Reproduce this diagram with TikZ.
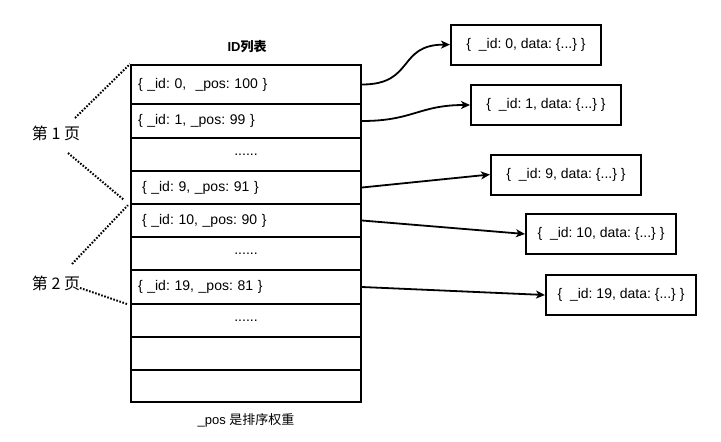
\documentclass[tikz,border=0pt]{standalone}
\usepackage{fontspec}
\setmainfont{Liberation Sans}
\newfontfamily\cjk{Noto Sans CJK SC}
\usetikzlibrary{positioning,arrows.meta}
\frenchspacing

\begin{document}
\begin{tikzpicture}[x=1pt, y=-1pt,
    row/.style={draw, line width=2pt, minimum width=230pt, text width=216pt,
      inner xsep=7pt, align=left, font=\fontsize{14}{16}\selectfont},
    gap/.style={row, align=center},
    doc/.style={draw, line width=2pt, minimum width=150pt, minimum height=40pt,
      font=\fontsize{14}{16}\selectfont},
    ptr/.style={line width=1.8pt, -{Stealth[length=9pt,width=8pt,inset=2.5pt]}},
    page/.style={line width=2pt, dash pattern=on 1.6pt off 1.6pt}]
    \useasboundingbox (0,0) rectangle (721,442);

    \node[font=\bfseries\fontsize{13}{15}\selectfont] (title) at (247,47) {ID{\cjk 列表}};

    % ID list
    \node[row, minimum height=39pt] (r1) at (246,84.5) {\{ \_id: 0,~ \_pos: 100 \}};
    \node[row, minimum height=34pt] (r2) at (246,121) {\{ \_id: 1, \_pos: 99 \}};
    \node[gap, minimum height=33pt] (r3) at (246,154.5) {......};
    \node[row, minimum height=33pt] (r4) at (246,187.5) {\hspace*{4pt}\{ \_id: 9, \_pos: 91 \}};
    \node[row, minimum height=33pt] (r5) at (246,220.5) {\hspace*{4pt}\{ \_id: 10, \_pos: 90 \}};
    \node[gap, minimum height=33pt] (r6) at (246,253.5) {......};
    \node[row, minimum height=34pt] (r7) at (246,287) {\{ \_id: 19, \_pos: 81 \}};
    \node[gap, minimum height=33pt] (r8) at (246,320.5) {......};
    \node[row, minimum height=33pt] (r9) at (246,353.5) {};
    \node[row, minimum height=32pt] (r10) at (246,386) {};

    \node[font=\fontsize{13}{15}\selectfont] (note) at (246,420) {\_pos {\cjk 是排序权重}};

    % documents
    \node[doc] (b1) at (526,44.6) {\{~ \_id: 0, data: \{...\} \}};
    \node[doc] (b2) at (546,105) {\{~ \_id: 1, data: \{...\} \}};
    \node[doc] (b3) at (566,174.5) {\{~ \_id: 9, data: \{...\} \}};
    \node[doc] (b4) at (601,234) {\{~ \_id: 10, data: \{...\} \}};
    \node[doc] (b5) at (621,295) {\{~ \_id: 19, data: \{...\} \}};

    \draw[ptr] (r1.east) to[out=0, in=180, looseness=1.4] (b1.west);
    \draw[ptr] (r2.east) to[out=0, in=180, looseness=1.2] (b2.west);
    \draw[ptr] (r4.east) -- (b3.west);
    \draw[ptr] (r5.east) -- (b4.west);
    \draw[ptr] (r7.east) -- (b5.west);

    % pages
    \node[font=\cjk\fontsize{16}{18}\selectfont] (p1) at (56,133) {第 1 页};
    \node[font=\cjk\fontsize{16}{18}\selectfont] (p2) at (56,283) {第 2 页};
    \coordinate (p1t) at ([shift={(19,-15)}]p1);
    \coordinate (p1b) at ([shift={(12,20)}]p1);
    \coordinate (p2t) at ([shift={(16,-19)}]p2);
    \coordinate (p2b) at ([shift={(24,5)}]p2);

    \draw[page] (p1t) -- (r1.north west);
    \draw[page, shorten >=8pt] (p1b) -- (r4.south west);
    \draw[page, shorten >=3pt] (p2t) -- (r5.north west);
    \draw[page, shorten >=3pt] (p2b) -- (r7.south west);
\end{tikzpicture}
\end{document}
